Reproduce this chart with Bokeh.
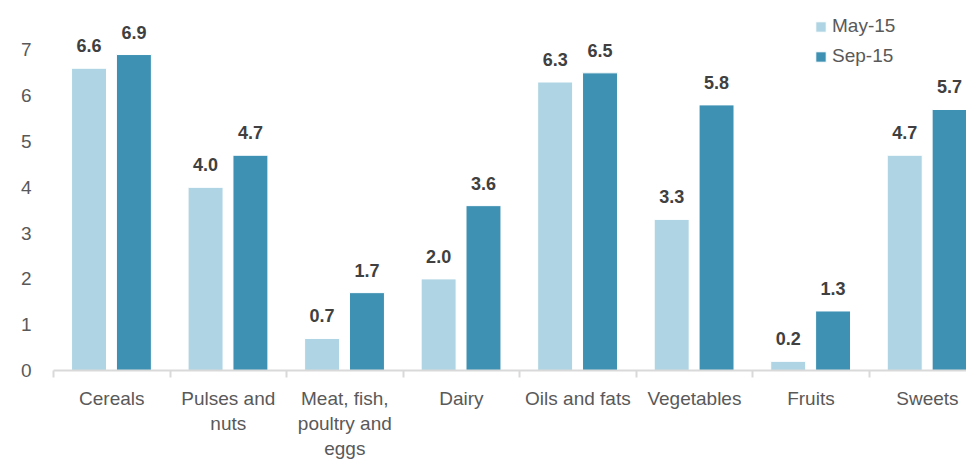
from bokeh.plotting import figure
from bokeh.models import ColumnDataSource, Range1d, FixedTicker, Legend, LegendItem
from bokeh.embed import file_html
from bokeh.resources import INLINE
from bokeh.core.properties import value

categories = ["Cereals", "Pulses and\nnuts", "Meat, fish,\npoultry and\neggs", "Dairy",
              "Oils and fats", "Vegetables", "Fruits", "Sweets"]
may15 = [6.6, 4.0, 0.7, 2.0, 6.3, 3.3, 0.2, 4.7]
sep15 = [6.9, 4.7, 1.7, 3.6, 6.5, 5.8, 1.3, 5.7]
series_names = ["May-15", "Sep-15"]
y_ticks = [0, 1, 2, 3, 4, 5, 6, 7]

FONT = "Liberation Sans"
LIGHT = "#AFD4E3"
DARK = "#3E91B3"

n = len(categories)
idx = list(range(n))
src_may = ColumnDataSource(dict(x=[i + 0.305 for i in idx], top=may15,
                                lab=[f"{v:.1f}" for v in may15]))
src_sep = ColumnDataSource(dict(x=[i + 0.69 for i in idx], top=sep15,
                                lab=[f"{v:.1f}" for v in sep15]))

p = figure(width=966, height=466, output_backend="svg", toolbar_location=None,
           x_range=Range1d(0, 7.835), y_range=Range1d(0, 8.08),
           min_border_left=53, min_border_right=0, min_border_top=0, min_border_bottom=96)
p.outline_line_color = None
p.xgrid.grid_line_color = None
p.ygrid.grid_line_color = None
p.background_fill_color = "white"
p.border_fill_color = "white"

r1 = p.vbar(x="x", top="top", width=0.30, source=src_may, fill_color=LIGHT,
            line_color="white", line_width=1)
r2 = p.vbar(x="x", top="top", width=0.30, source=src_sep, fill_color=DARK,
            line_color="white", line_width=1)

for s in (src_may, src_sep):
    p.text(x="x", y="top", text="lab", source=s, text_align="center",
           text_baseline="bottom", y_offset=-16, text_font=value(FONT),
           text_font_style="bold", text_font_size="18px", text_color="#404040")

# x axis
xa = p.xaxis[0]
xa.ticker = FixedTicker(ticks=[i + 0.5 for i in idx], minor_ticks=list(range(n + 1)))
xa.major_label_overrides = {i + 0.5: c for i, c in enumerate(categories)}
xa.axis_line_color = "#D9D9D9"
xa.axis_line_width = 2
xa.major_tick_line_color = None
xa.minor_tick_line_color = "#D9D9D9"
xa.minor_tick_line_width = 2
xa.minor_tick_in = 0
xa.minor_tick_out = 7
xa.major_label_standoff = 10
xa.major_label_text_font = FONT
xa.major_label_text_font_size = "19px"
xa.major_label_text_color = "#595959"

# y axis
ya = p.yaxis[0]
ya.ticker = FixedTicker(ticks=y_ticks)
ya.axis_line_color = None
ya.major_tick_line_color = None
ya.minor_tick_line_color = None
ya.major_label_standoff = 16
ya.major_label_text_font = FONT
ya.major_label_text_font_size = "19px"
ya.major_label_text_color = "#595959"

legend = Legend(items=[LegendItem(label=series_names[0], renderers=[r1]),
                       LegendItem(label=series_names[1], renderers=[r2])],
                location=(761, 303), orientation="vertical",
                glyph_width=13, glyph_height=13, label_standoff=5,
                spacing=8, padding=0, margin=0,
                label_text_font=FONT, label_text_font_size="19px",
                label_text_color="#595959", border_line_color=None,
                background_fill_alpha=0)
p.add_layout(legend, "center")

open("out.html", "w").write(file_html(p, INLINE))
